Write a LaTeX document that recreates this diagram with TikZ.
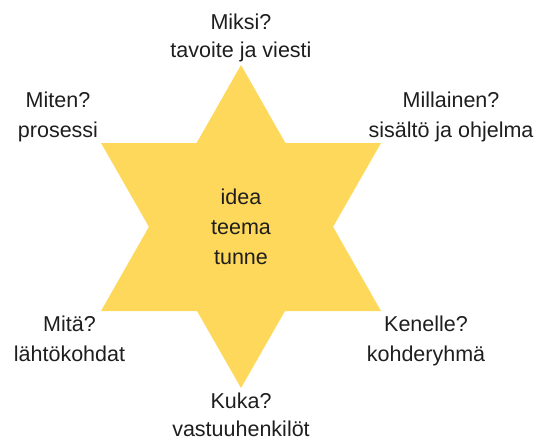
\documentclass[tikz,border=0pt]{standalone}
\usepackage{fontspec}
\setmainfont{Liberation Sans}
\definecolor{staryellow}{HTML}{FDD85A}
\definecolor{txt}{HTML}{1E1E1E}
\begin{document}
\begin{tikzpicture}[x=1pt,y=-1pt,
  lbl/.style={anchor=base,inner sep=0pt,text=txt,font=\fontsize{21.5}{29}\selectfont},
  tri/.style={fill=staryellow,draw=none}]
\useasboundingbox (0,0) rectangle (543,441);
% star as two triangles
\coordinate (T) at (241,65);
\coordinate (B) at (241,388);
\coordinate (UL) at (101,143);
\coordinate (UR) at (381,143);
\coordinate (LL) at (101,311);
\coordinate (LR) at (381,311);
\fill[tri] (T) -- (LL) -- (LR) -- cycle;
\fill[tri] (B) -- (UL) -- (UR) -- cycle;
% labels
\node[lbl] (miksi) at (241,30) {Miksi?};
\node[lbl] (tavoite) at (241,58) {tavoite ja viesti};
\node[lbl] (miten) at (58,107) {Miten?};
\node[lbl] (prosessi) at (58,137) {prosessi};
\node[lbl] (millainen) at (451,107) {Millainen?};
\node[lbl] (sisalto) at (451,137) {sisältö ja ohjelma};
\node[lbl] (idea) at (241,204) {idea};
\node[lbl] (teema) at (241,234) {teema};
\node[lbl] (tunne) at (241,264) {tunne};
\node[lbl] (mita) at (69.5,331) {Mitä?};
\node[lbl] (lahto) at (69.5,361) {lähtökohdat};
\node[lbl] (kenelle) at (426,331) {Kenelle?};
\node[lbl] (kohde) at (426,361) {kohderyhmä};
\node[lbl] (kuka) at (241,408) {Kuka?};
\node[lbl] (vastuu) at (241,436) {vastuuhenkilöt};
\end{tikzpicture}
\end{document}
